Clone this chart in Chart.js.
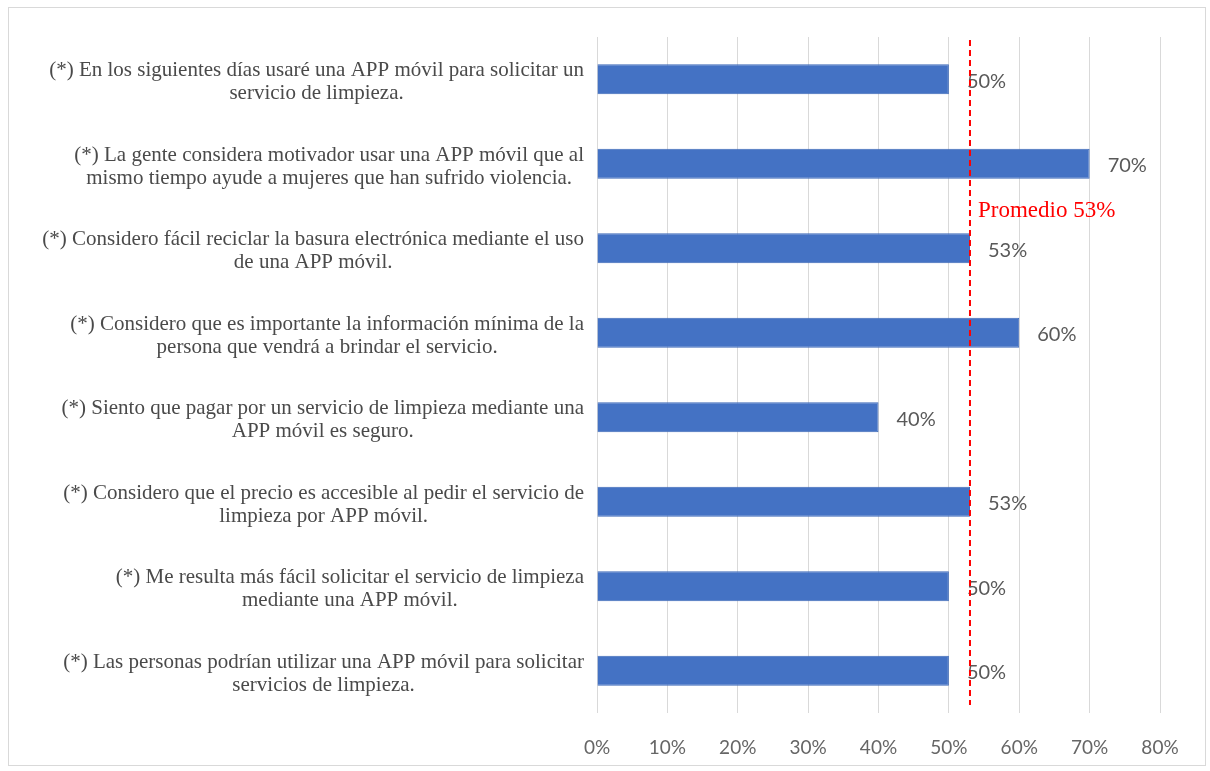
<!DOCTYPE html>
<html>
<head>
<meta charset="utf-8">
<script src="https://cdn.jsdelivr.net/npm/chart.js@4/dist/chart.umd.min.js"></script>
<style>
  html, body { margin: 0; padding: 0; background: #fff; }
  #wrap { position: relative; width: 1210px; height: 771px; }
  #frame { position: absolute; left: 8px; top: 7px; right: 4px; bottom: 5px; border: 1px solid #d9d9d9; pointer-events: none; }
</style>
</head>
<body>
<div id="wrap">
  <canvas id="surveyChart" width="1210" height="771"></canvas>
  <div id="frame"></div>
</div>
<script>
    // Survey statements (each split in two lines) and agreement percentage
    const statements = [
        ['(*) En los siguientes días usaré una APP móvil para solicitar un', 'servicio de limpieza.'],
        ['(*) La gente considera motivador usar una APP móvil que al', 'mismo tiempo ayude a mujeres que han sufrido violencia.'],
        ['(*) Considero fácil reciclar la basura electrónica mediante el uso', 'de una APP móvil.'],
        ['(*) Considero que es importante la información mínima de la', 'persona que vendrá a brindar el servicio.'],
        ['(*) Siento que pagar por un servicio de limpieza mediante una', 'APP móvil es seguro.'],
        ['(*) Considero que el precio es accesible al pedir el servicio de', 'limpieza por APP móvil.'],
        ['(*) Me resulta más fácil solicitar el servicio de limpieza', 'mediante una APP móvil.'],
        ['(*) Las personas podrían utilizar una APP móvil para solicitar', 'servicios de limpieza.']
    ];
    const percentages = [50, 70, 53, 60, 40, 53, 50, 50];
    const average = 53;
    const tickValues = [0, 10, 20, 30, 40, 50, 60, 70, 80];

    const serif = '"Liberation Serif", "DejaVu Serif", serif';
    const sans = 'Lato, "Open Sans", sans-serif';

    // Statement text, right-aligned block with centred lines, next to each bar
    const statementLabels = {
        id: 'statementLabels',
        afterDraw(chart) {
            const ctx = chart.ctx;
            const y = chart.scales.y;
            const lineH = 23;
            ctx.save();
            ctx.font = '21px ' + serif;
            ctx.fillStyle = '#4a4a4a';
            ctx.textAlign = 'center';
            ctx.textBaseline = 'middle';
            const right = chart.chartArea.left - 13;
            statements.forEach((lines, i) => {
                const cy = y.getPixelForValue(i);
                const w = Math.max(...lines.map(l => ctx.measureText(l).width));
                const cx = right - w / 2;
                lines.forEach((l, k) => {
                    ctx.fillText(l, cx, cy + (k - (lines.length - 1) / 2) * lineH + 3);
                });
            });
            ctx.restore();
        }
    };

    // Percentage shown after the end of each bar
    const valueLabels = {
        id: 'valueLabels',
        afterDatasetsDraw(chart) {
            const ctx = chart.ctx;
            const meta = chart.getDatasetMeta(0);
            ctx.save();
            ctx.font = '20px ' + sans;
            ctx.fillStyle = '#595959';
            ctx.textAlign = 'left';
            ctx.textBaseline = 'middle';
            meta.data.forEach((bar, i) => {
                ctx.fillText(percentages[i] + '%', bar.x + 18, bar.y + 2);
            });
            ctx.restore();
        }
    };

    // Dashed red average line with its caption
    const averageLine = {
        id: 'averageLine',
        afterDraw(chart) {
            const ctx = chart.ctx;
            const x = chart.scales.x.getPixelForValue(average);
            const area = chart.chartArea;
            ctx.save();
            ctx.strokeStyle = '#ff0000';
            ctx.lineWidth = 2;
            ctx.setLineDash([6, 4]);
            ctx.beginPath();
            ctx.moveTo(x, area.top + 3);
            ctx.lineTo(x, area.bottom - 8);
            ctx.stroke();
            ctx.setLineDash([]);
            ctx.font = '23px ' + serif;
            ctx.fillStyle = '#ff0000';
            ctx.textAlign = 'left';
            ctx.textBaseline = 'middle';
            ctx.fillText('Promedio ' + average + '%', x + 8, chart.scales.y.getPixelForValue(1.5) + 5);
            ctx.restore();
        }
    };

    const ctx = document.getElementById('surveyChart').getContext('2d');

    new Chart(ctx, {
        type: 'bar',
        data: {
            labels: statements.map(s => s.join(' ')),
            datasets: [{
                data: percentages,
                backgroundColor: '#4472c4',
                borderColor: '#3d69b8',
                borderWidth: 1,
                barPercentage: 0.355,
                categoryPercentage: 1
            }]
        },
        options: {
            indexAxis: 'y',
            responsive: false,
            animation: false,
            layout: {
                padding: { left: 597, right: 50, top: 37, bottom: 0 }
            },
            plugins: {
                legend: { display: false },
                tooltip: { enabled: false }
            },
            scales: {
                x: {
                    min: 0,
                    max: 80,
                    afterBuildTicks(scale) {
                        scale.ticks = tickValues.map(v => ({ value: v }));
                    },
                    afterFit(scale) {
                        scale.height = 58;
                    },
                    ticks: {
                        callback: v => v + '%',
                        color: '#666666',
                        font: { family: sans, size: 19 },
                        padding: 23
                    },
                    grid: {
                        color: '#d9d9d9',
                        lineWidth: 1,
                        drawTicks: false
                    },
                    border: { display: false }
                },
                y: {
                    display: false
                }
            }
        },
        plugins: [statementLabels, valueLabels, averageLine]
    });
</script>
</body>
</html>
